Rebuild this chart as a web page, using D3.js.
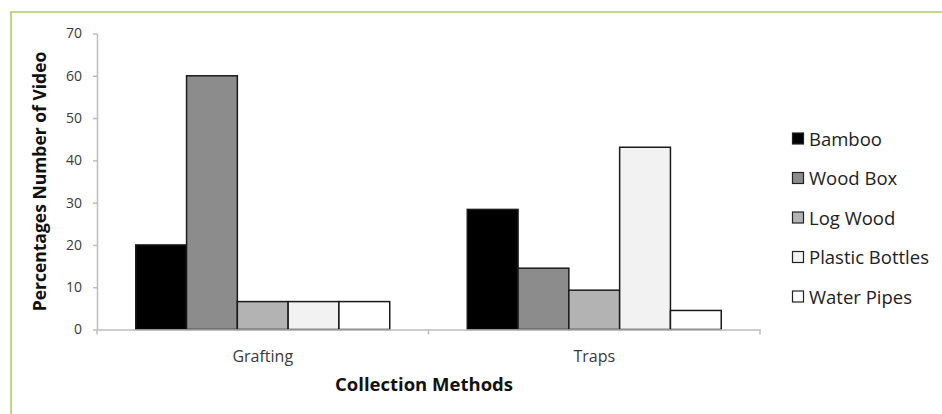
<!DOCTYPE html>
<html>
<head>
<meta charset="utf-8">
<script src="https://cdn.jsdelivr.net/npm/d3@7/dist/d3.min.js"></script>
<style>
  html, body { margin: 0; padding: 0; background: #fff; }
  svg { display: block; }
  text { font-family: "Open Sans", "DejaVu Sans", sans-serif; }
</style>
</head>
<body>
<svg id="chart" width="942" height="414"></svg>
<script>
const categories = ["Grafting", "Traps"];
const seriesNames = ["Bamboo", "Wood Box", "Log Wood", "Plastic Bottles", "Water Pipes"];
const bamboo = [20, 28.4];
const woodBox = [60, 14.5];
const logWood = [6.6, 9.3];
const plasticBottles = [6.6, 43.1];
const waterPipes = [6.6, 4.5];
const yTicks = [0, 10, 20, 30, 40, 50, 60, 70];
const seriesColors = ["#000000", "#8c8c8c", "#b3b3b3", "#f2f2f2", "#ffffff"];

const seriesValues = [bamboo, woodBox, logWood, plasticBottles, waterPipes];

const svg = d3.select("#chart");

// outer green frame
svg.append("path")
  .attr("d", "M11,414 L11,12 L942,12")
  .attr("fill", "none")
  .attr("stroke", "#a9cf62")
  .attr("stroke-width", 1.6);

const pLeft = 97, pRight = 760, pTop = 33.5, pBottom = 329.5;

const x0 = d3.scaleBand().domain(categories).range([pLeft, pRight]).paddingInner(0).paddingOuter(0);
const x1 = d3.scaleBand().domain(seriesNames).range([0, x0.bandwidth()]).paddingOuter(0.763).paddingInner(0);
const y = d3.scaleLinear().domain([0, 70]).range([pBottom, pTop]);

// bars
categories.forEach((c, ci) => {
  const g = svg.append("g").attr("transform", `translate(${x0(c)},0)`);
  g.selectAll("rect")
    .data(seriesNames.map((s, si) => ({ s, v: seriesValues[si][ci], color: seriesColors[si] })))
    .join("rect")
    .attr("x", d => x1(d.s))
    .attr("y", d => y(d.v))
    .attr("width", x1.bandwidth())
    .attr("height", d => y(0) - y(d.v))
    .attr("fill", d => d.color)
    .attr("stroke", "#1a1a1a")
    .attr("stroke-width", 1.5);
});

// y axis
const yAxis = svg.append("g")
  .attr("transform", `translate(${pLeft},0)`)
  .call(d3.axisLeft(y).tickValues(yTicks).tickSize(4).tickSizeOuter(0).tickPadding(11));
yAxis.select(".domain").attr("stroke", "#bdbdbd").attr("stroke-width", 1.5);
yAxis.selectAll(".tick line").attr("stroke", "#bdbdbd").attr("stroke-width", 1.5);
yAxis.selectAll(".tick text").attr("fill", "#3a3a3a").style("font-size", "14px")
  .style("font-family", "'Open Sans', sans-serif");

// x axis
const xAxis = svg.append("g")
  .attr("transform", `translate(0,${pBottom})`)
  .call(d3.axisBottom(x0).tickSize(0).tickPadding(21));
xAxis.select(".domain").attr("stroke", "#bdbdbd").attr("stroke-width", 1.5);
xAxis.selectAll(".tick text").attr("fill", "#3a3a3a").style("font-size", "16px")
  .style("font-family", "'Open Sans', sans-serif");
// band boundary tick marks
const boundaries = [pLeft, x0(categories[1]), pRight];
xAxis.selectAll("line.bt").data(boundaries).join("line")
  .attr("class", "bt")
  .attr("x1", d => d).attr("x2", d => d)
  .attr("y1", 0).attr("y2", 5)
  .attr("stroke", "#bdbdbd").attr("stroke-width", 1.5);

// axis titles
svg.append("text")
  .attr("transform", `translate(46,181.5) rotate(-90)`)
  .attr("text-anchor", "middle")
  .style("font-size", "17.5px")
  .style("font-weight", "bold")
  .attr("fill", "#111")
  .text("Percentages Number of Video");

svg.append("text")
  .attr("x", 424)
  .attr("y", 391)
  .attr("text-anchor", "middle")
  .style("font-size", "18.5px")
  .style("font-weight", "bold")
  .attr("fill", "#111")
  .text("Collection Methods");

// legend
const legend = svg.append("g").attr("transform", "translate(792,139.5)");
const items = legend.selectAll("g").data(seriesNames).join("g")
  .attr("transform", (d, i) => `translate(0,${i * 39.5})`);
items.append("rect")
  .attr("x", 0.5).attr("y", -6.5)
  .attr("width", 11).attr("height", 11)
  .attr("fill", (d, i) => seriesColors[i])
  .attr("stroke", "#222").attr("stroke-width", 1.2);
items.append("text")
  .attr("x", 17).attr("y", 0)
  .attr("dy", "0.35em")
  .style("font-size", "18.5px")
  .attr("fill", "#222")
  .text(d => d);
</script>
</body>
</html>
